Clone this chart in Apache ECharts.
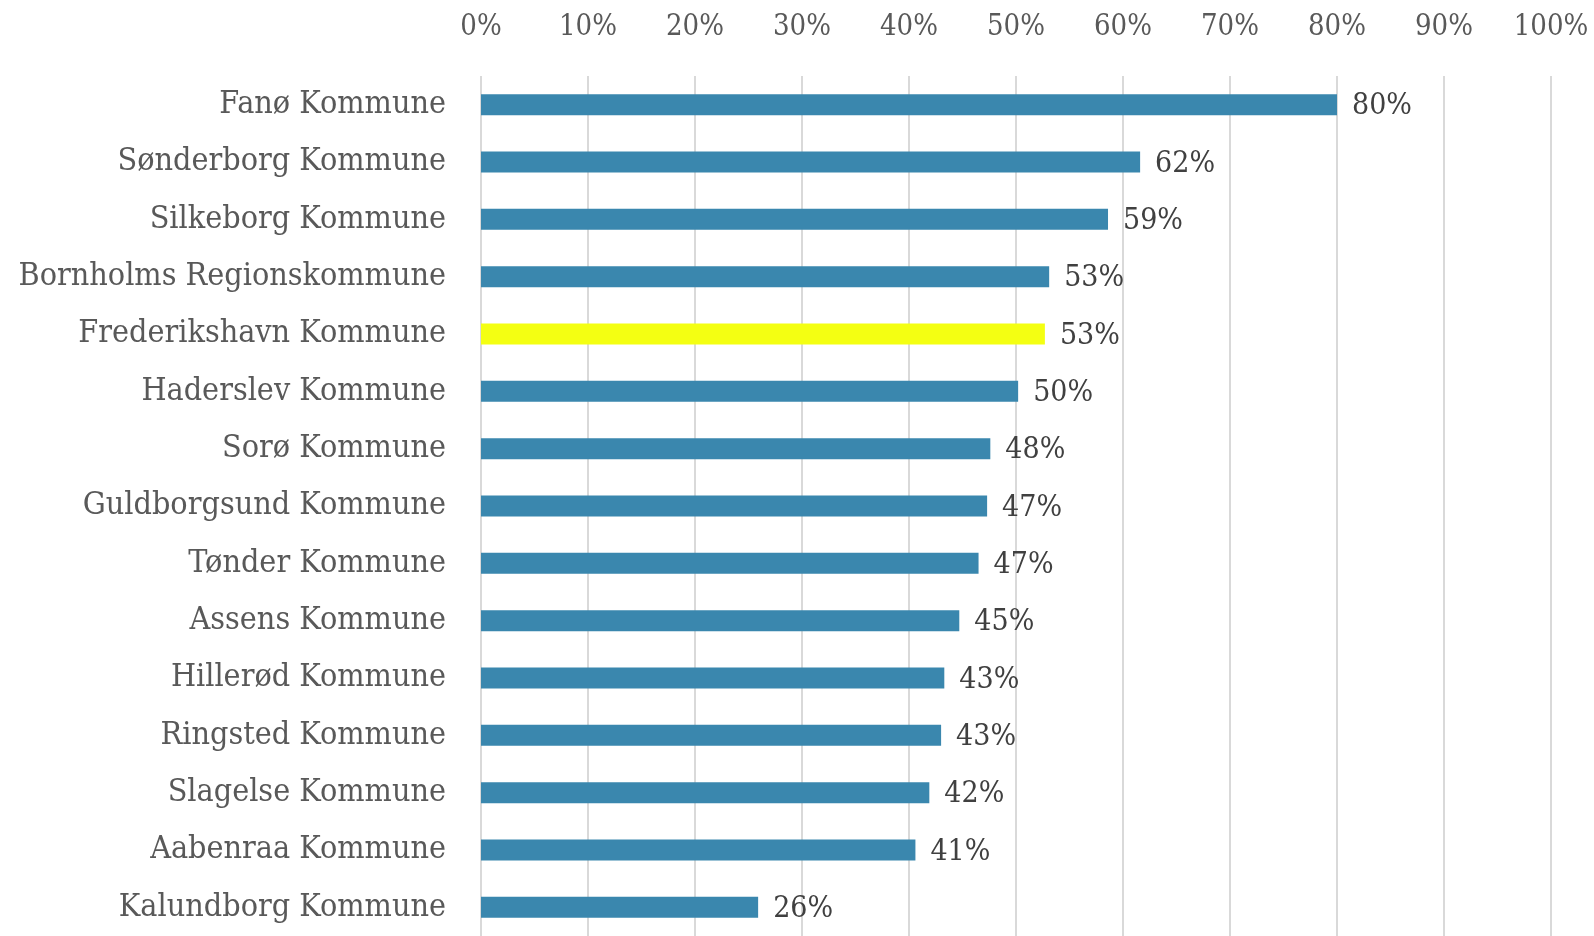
<!DOCTYPE html>
<html>
<head>
<meta charset="utf-8">
<script src="https://cdn.jsdelivr.net/npm/echarts@6/dist/echarts.min.js"></script>
<style>
  html, body { margin: 0; padding: 0; background: #fff; }
  #chart { width: 1594px; height: 936px; }
</style>
</head>
<body>
<div id="chart"></div>
<script>
// kommuner, top to bottom as in the picture
var categories = [
	'Fanø Kommune', 'Sønderborg Kommune', 'Silkeborg Kommune', 'Bornholms Regionskommune',
	'Frederikshavn Kommune', 'Haderslev Kommune', 'Sorø Kommune', 'Guldborgsund Kommune',
	'Tønder Kommune', 'Assens Kommune', 'Hillerød Kommune', 'Ringsted Kommune',
	'Slagelse Kommune', 'Aabenraa Kommune', 'Kalundborg Kommune'
];
// share in percent
var values = [80.0, 61.6, 58.6, 53.1, 52.7, 50.2, 47.6, 47.3, 46.5, 44.7, 43.3, 43.0, 41.9, 40.6, 25.9];
var highlight = 'Frederikshavn Kommune';
var tickValues = [0, 10, 20, 30, 40, 50, 60, 70, 80, 90, 100];

var FONT = '"DejaVu Serif Condensed", "DejaVu Serif", serif';

var chart = echarts.init(document.getElementById('chart'));
var option = {
	animation: false,
	grid: {
		left: 481,
		right: 43,
		top: 76,
		bottom: 0
	},
	xAxis: {
		type: 'value',
		position: 'top',
		min: tickValues[0],
		max: tickValues[tickValues.length - 1],
		interval: 10,
		axisLine: { show: false },
		axisTick: { show: false },
		axisLabel: {
			formatter: '{value}%',
			color: '#595959',
			fontFamily: FONT,
			fontSize: 29,
			margin: 34
		},
		splitLine: {
			lineStyle: { color: '#d9d9d9', width: 2 }
		}
	},
	yAxis: {
		type: 'category',
		inverse: true,
		data: categories,
		axisLine: { show: false },
		axisTick: { show: false },
		axisLabel: {
			color: '#595959',
			fontFamily: FONT,
			fontSize: 32,
			margin: 35
		}
	},
	series: [{
		type: 'bar',
		barWidth: 21,
		data: values.map(function (v, i) {
			return {
				value: v,
				itemStyle: { color: categories[i] === highlight ? '#f4ff12' : '#3a87ae' }
			};
		}),
		label: {
			show: true,
			position: 'right',
			distance: 15,
			color: '#404040',
			fontFamily: FONT,
			fontSize: 30,
			offset: [0, 2],
			formatter: function (p) { return Math.round(p.value) + '%'; }
		}
	}]
};
chart.setOption(option);
</script>
</body>
</html>
